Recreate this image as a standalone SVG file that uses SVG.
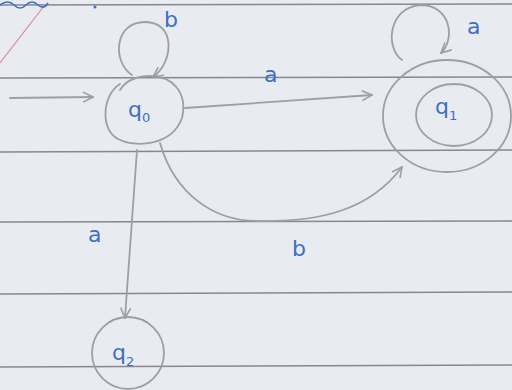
<svg xmlns="http://www.w3.org/2000/svg" width="512" height="390" viewBox="0 0 512 390">
<defs>
<style>
.rule{stroke:#8c8494;stroke-width:1.6;fill:none}
.pen{stroke:#9e9ea8;stroke-width:1.8;fill:none;stroke-linecap:round}
.ink{fill:#3f6fc4;font-family:"DejaVu Sans","Liberation Sans",sans-serif;font-size:22px}
.sub{font-size:13px}
</style>
<marker id="ah" viewBox="0 0 12 12" refX="11" refY="6" markerWidth="12" markerHeight="12" markerUnits="userSpaceOnUse" orient="auto">
<path d="M1,1 L11,6 L1,11" fill="none" stroke="#9e9ea8" stroke-width="1.6"/>
</marker>
</defs>
<rect width="512" height="390" fill="#e8ebef"/>
<g id="paper">
<line class="rule" x1="0" y1="5" x2="512" y2="4"/>
<line class="rule" x1="0" y1="78" x2="512" y2="77"/>
<line class="rule" x1="0" y1="152" x2="512" y2="150"/>
<line class="rule" x1="0" y1="222" x2="512" y2="221"/>
<line class="rule" x1="0" y1="294" x2="512" y2="292"/>
<line class="rule" x1="0" y1="367" x2="512" y2="365"/>
<line x1="0" y1="63" x2="44" y2="6" stroke="#d88a9a" stroke-width="1.2"/>
<path d="M0,5 q8,-6 14,0 q6,6 12,0 q6,-6 12,0 q6,5 10,-2" stroke="#3f6fc4" stroke-width="1.6" fill="none"/>
<circle cx="95" cy="7" r="1.5" fill="#3f6fc4"/>
</g>
<g id="edges">
<line class="pen" x1="10" y1="98" x2="93" y2="97" marker-end="url(#ah)"/>
<path class="pen" d="M132,75 C112,62 114,22 145,22 C176,22 174,62 153,77" marker-end="url(#ah)"/>
<line class="pen" x1="185" y1="108" x2="372" y2="95" marker-end="url(#ah)"/>
<path class="pen" d="M160,143 C175,195 215,222 260,221 C320,222 370,210 402,167" marker-end="url(#ah)"/>
<line class="pen" x1="137" y1="150" x2="125" y2="318" marker-end="url(#ah)"/>
<path class="pen" d="M402,60 C385,48 388,8 420,5 C452,5 455,40 441,53" marker-end="url(#ah)"/>
</g>
<g id="labels">
<text class="ink" x="164" y="27">b</text>
<text class="ink" x="264" y="82">a</text>
<text class="ink" x="467" y="34">a</text>
<text class="ink" x="292" y="256">b</text>
<text class="ink" x="88" y="242">a</text>
</g>
<g id="q0">
<path class="pen" d="M120,84 C102,95 100,130 118,139 C135,148 172,146 182,118 C188,92 172,76 150,76 C135,76 125,82 120,90"/>
<text class="ink" x="128" y="117">q<tspan class="sub" dy="5">0</tspan></text>
</g>
<g id="q1">
<ellipse class="pen" cx="447" cy="116" rx="64" ry="56"/>
<ellipse class="pen" cx="454" cy="115" rx="38" ry="31"/>
<text class="ink" x="435" y="114">q<tspan class="sub" dy="6">1</tspan></text>
</g>
<g id="q2">
<circle class="pen" cx="128" cy="353" r="36"/>
<text class="ink" x="112" y="360">q<tspan class="sub" dy="6">2</tspan></text>
</g>
</svg>
